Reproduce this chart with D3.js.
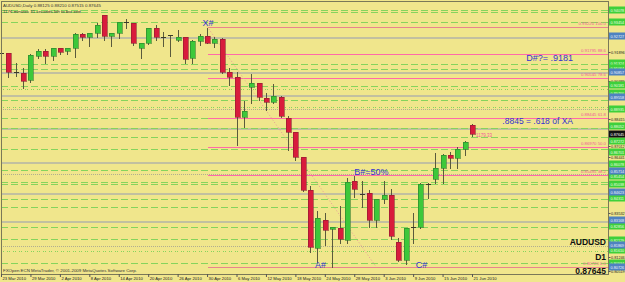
<!DOCTYPE html>
<html>
<head>
<meta charset="utf-8">
<script src="https://cdnjs.cloudflare.com/ajax/libs/d3/7.8.5/d3.min.js"></script>
<style>
  body { margin: 0; background: #f0e68c; }
  svg { display: block; }
  text { font-family: Arial, "Liberation Sans", sans-serif; }
</style>
</head>
<body>
<div id="chart"></div>
<script>
// Daily bars, AUDUSD 23 Mar - 21 Jun 2010
var dates = ["23 Mar 2010","24 Mar 2010","25 Mar 2010","26 Mar 2010","29 Mar 2010","30 Mar 2010","31 Mar 2010",
  "1 Apr 2010","2 Apr 2010","5 Apr 2010","6 Apr 2010","7 Apr 2010","8 Apr 2010","9 Apr 2010","12 Apr 2010",
  "13 Apr 2010","14 Apr 2010","15 Apr 2010","16 Apr 2010","19 Apr 2010","20 Apr 2010","21 Apr 2010","22 Apr 2010",
  "23 Apr 2010","26 Apr 2010","27 Apr 2010","28 Apr 2010","29 Apr 2010","30 Apr 2010",
  "3 May 2010","4 May 2010","5 May 2010","6 May 2010","7 May 2010","10 May 2010","11 May 2010","12 May 2010",
  "13 May 2010","14 May 2010","17 May 2010","18 May 2010","19 May 2010","20 May 2010","21 May 2010","24 May 2010",
  "25 May 2010","26 May 2010","27 May 2010","28 May 2010","31 May 2010",
  "1 Jun 2010","2 Jun 2010","3 Jun 2010","4 Jun 2010","7 Jun 2010","8 Jun 2010","9 Jun 2010","10 Jun 2010",
  "11 Jun 2010","14 Jun 2010","15 Jun 2010","16 Jun 2010","17 Jun 2010","18 Jun 2010","21 Jun 2010"];

var opens = [0.9185, 0.9184, 0.9086, 0.9081, 0.9044, 0.9169, 0.9195, 0.9169, 0.9210, 0.9195,
  0.9210, 0.9283, 0.9267, 0.9288, 0.9382, 0.9273, 0.9288, 0.9345, 0.9340, 0.9210,
  0.9236, 0.9314, 0.9267, 0.9278, 0.9252, 0.9267, 0.9158, 0.9247, 0.9273, 0.9236,
  0.9257, 0.9086, 0.9060, 0.8852, 0.9008, 0.9029, 0.8951, 0.8930, 0.8956, 0.8847,
  0.8774, 0.8644, 0.8473, 0.8171, 0.8317, 0.8270, 0.8275, 0.8213, 0.8519, 0.8452,
  0.8457, 0.8317, 0.8426, 0.8447, 0.8203, 0.8109, 0.8280, 0.8280, 0.8504, 0.8530,
  0.8587, 0.8654, 0.8639, 0.8686, 0.88125];
var highs = [0.9200, 0.9190, 0.9138, 0.9112, 0.9184, 0.9210, 0.9210, 0.9216, 0.9213, 0.9216,
  0.9293, 0.9293, 0.9290, 0.9345, 0.9387, 0.9293, 0.9351, 0.9366, 0.9345, 0.9242,
  0.9319, 0.9335, 0.9299, 0.9279, 0.9309, 0.9269, 0.9257, 0.9288, 0.9322, 0.9273,
  0.9267, 0.9112, 0.9091, 0.8940, 0.9080, 0.9034, 0.8982, 0.9029, 0.8966, 0.8862,
  0.8775, 0.8646, 0.8499, 0.8369, 0.8358, 0.8286, 0.8395, 0.8540, 0.8550, 0.8525,
  0.8478, 0.8431, 0.8525, 0.8483, 0.8228, 0.8280, 0.8358, 0.8514, 0.8514, 0.8670,
  0.8665, 0.8675, 0.8701, 0.8732, 0.88210];
var lows = [0.9169, 0.9060, 0.9065, 0.9003, 0.9034, 0.9158, 0.9132, 0.9148, 0.9179, 0.9179,
  0.9164, 0.9252, 0.9221, 0.9267, 0.9252, 0.9221, 0.9262, 0.9314, 0.9226, 0.9158,
  0.9231, 0.9252, 0.9221, 0.9169, 0.9247, 0.9132, 0.9132, 0.9226, 0.9234, 0.9216,
  0.9081, 0.9018, 0.8706, 0.8800, 0.8925, 0.8940, 0.8888, 0.8925, 0.8852, 0.8680,
  0.8629, 0.8470, 0.8151, 0.8099, 0.8187, 0.8073, 0.8197, 0.8197, 0.8436, 0.8384,
  0.8280, 0.8280, 0.8405, 0.8218, 0.8104, 0.8088, 0.8197, 0.8275, 0.8431, 0.8509,
  0.8509, 0.8587, 0.8587, 0.8654, 0.87515];
var closes = [0.9184, 0.9086, 0.9085, 0.9039, 0.9174, 0.9195, 0.9169, 0.9210, 0.9190, 0.9210,
  0.9283, 0.9267, 0.9288, 0.9330, 0.9273, 0.9288, 0.9345, 0.9344, 0.9236, 0.9236,
  0.9314, 0.9267, 0.9266, 0.9277, 0.9267, 0.9153, 0.9247, 0.9273, 0.9236, 0.9257,
  0.9086, 0.9060, 0.8852, 0.8883, 0.9029, 0.8956, 0.8930, 0.8961, 0.8857, 0.8774,
  0.8644, 0.8473, 0.8177, 0.8327, 0.8265, 0.8280, 0.8218, 0.8514, 0.8478, 0.8451,
  0.8317, 0.8426, 0.8447, 0.8234, 0.8109, 0.8275, 0.8281, 0.8504, 0.8503, 0.8587,
  0.8654, 0.8639, 0.8686, 0.8722, 0.87645];

// date labels under the chart
var tickDates = ["23 Mar 2010","29 Mar 2010","2 Apr 2010","8 Apr 2010","14 Apr 2010","20 Apr 2010",
  "26 Apr 2010","30 Apr 2010","6 May 2010","12 May 2010","18 May 2010","24 May 2010","28 May 2010",
  "3 Jun 2010","9 Jun 2010","15 Jun 2010","21 Jun 2010"];

// horizontal levels drawn across the chart
var dashLevels = [0.94078, 0.93974, 0.93454, 0.91272, 0.91012, 0.90129, 0.89428, 0.88467, 0.87947,
  0.87480, 0.86856, 0.85766, 0.85142, 0.85038, 0.84259, 0.83843, 0.82804, 0.82181, 0.80934];
var solidLevels = [0.92675, 0.90857, 0.89662, 0.87947, 0.86181, 0.84571, 0.83116];
var thinLevels = [0.88935, 0.85558, 0.81817];
var dotLevels = [0.89973, 0.89038, 0.81558];

// fibonacci X -> A
var fibHigh = 0.9322;
var fibLow = 0.8072;
var fibRatios = [0, 38.2, 50, 61.8, 78.6, 88.6, 100];

// price axis labels
var greenTags = [0.94078, 0.93454, 0.91324, 0.91064, 0.90181, 0.89766, 0.88935, 0.88052, 0.87272,
  0.86701, 0.86078, 0.85454, 0.85038, 0.84311, 0.82856, 0.82129, 0.81610, 0.80934];
var blueTags = [0.92727, 0.90857, 0.89558, 0.85714, 0.84623, 0.83168, 0.81869, 0.80726];
var axisTicks = [0.91896, 0.90389, 0.88415, 0.87012, 0.86441, 0.83532, 0.81246, 0.80519];
var lastPrice = 0.87645;

// chart size
var svgWidth = 625;
var svgHeight = 282;
var margin = { top: 2, right: 17, bottom: 8, left: 1 };
var plotRight = svgWidth - margin.right;
var plotBottom = svgHeight - margin.bottom;
var rightShift = 136;

var svg = d3.select("#chart")
  .append("svg")
  .attr("width", svgWidth)
  .attr("height", svgHeight);

svg.append("rect")
  .attr("width", svgWidth)
  .attr("height", svgHeight)
  .attr("fill", "#f0e68c");

var bars = dates.map(function(d, i) {
  return { date: d, open: opens[i], high: highs[i], low: lows[i], close: closes[i] };
});

var xScale = d3.scalePoint()
  .domain(dates)
  .range([margin.left, plotRight - rightShift]);

var yScale = d3.scaleLinear()
  .domain([0.80363, 0.94493])
  .range([plotBottom, margin.top]);

var chartGroup = svg.append("g").attr("shape-rendering", "crispEdges");

function py(p) { return Math.round(yScale(p)) + 0.5; }
function px(d) { return Math.round(xScale(d)) + 0.5; }

// level lines
function drawLevels(prices, color, width, dash) {
  chartGroup.append("g").selectAll("line")
    .data(prices)
    .enter()
    .append("line")
    .attr("x1", margin.left)
    .attr("x2", plotRight)
    .attr("y1", d => py(d))
    .attr("y2", d => py(d))
    .attr("stroke", color)
    .attr("stroke-width", width)
    .attr("stroke-dasharray", dash);
}
drawLevels(solidLevels, "#c2c0a0", 2, null);
drawLevels(thinLevels, "#b0ae90", 1, "1,1");
drawLevels(dashLevels, "#86d45c", 1, "7,3");
drawLevels(dotLevels, "#86d45c", 1, "1,1,1,3");

// fibonacci levels from X bar to the right edge
var fibStart = "30 Apr 2010";
var fibGroup = chartGroup.append("g").selectAll("g")
  .data(fibRatios)
  .enter()
  .append("g");

fibGroup.append("line")
  .attr("x1", px(fibStart))
  .attr("x2", plotRight)
  .attr("y1", d => py(fibLow + d / 100 * (fibHigh - fibLow)))
  .attr("y2", d => py(fibLow + d / 100 * (fibHigh - fibLow)))
  .attr("stroke", d => (d === 0 || d === 100) ? "#e8848c" : "#ff6aa8");

fibGroup.append("text")
  .attr("x", plotRight - 2)
  .attr("y", d => py(fibLow + d / 100 * (fibHigh - fibLow)) - 2.5)
  .attr("text-anchor", "end")
  .attr("font-size", 4.3)
  .attr("fill", "#f05a9a")
  .text(d => (fibLow + d / 100 * (fibHigh - fibLow)).toFixed(5) + " " + d.toFixed(1));

// dotted XA line
chartGroup.append("line")
  .attr("x1", xScale(fibStart))
  .attr("y1", yScale(fibHigh))
  .attr("x2", xScale("2 Jun 2010"))
  .attr("y2", yScale(fibLow))
  .attr("shape-rendering", "auto")
  .attr("stroke", "#e89a9a")
  .attr("stroke-width", 1)
  .attr("stroke-dasharray", "1,2");

// candles
var candles = chartGroup.append("g").selectAll("g")
  .data(bars)
  .enter()
  .append("g");

candles.append("line")
  .attr("x1", d => px(d.date))
  .attr("x2", d => px(d.date))
  .attr("y1", d => py(d.high))
  .attr("y2", d => py(d.low))
  .attr("stroke", "#5a5a3c");

candles.filter(d => Math.abs(d.open - d.close) >= 0.00015)
  .append("rect")
  .attr("x", d => Math.round(xScale(d.date)) - 2)
  .attr("y", d => Math.round(yScale(Math.max(d.open, d.close))))
  .attr("width", 5)
  .attr("height", d => Math.max(1, Math.round(Math.abs(yScale(d.open) - yScale(d.close)))))
  .attr("fill", d => d.close > d.open ? "#3dc83a" : "#d81c3c")
  .attr("stroke", d => d.close > d.open ? "#2b7d2b" : "#8c1c30")
  .attr("stroke-width", 0.6);

candles.filter(d => Math.abs(d.open - d.close) < 0.00015)
  .append("line")
  .attr("x1", d => Math.round(xScale(d.date)) - 2)
  .attr("x2", d => Math.round(xScale(d.date)) + 3)
  .attr("y1", d => py(d.close))
  .attr("y2", d => py(d.close))
  .attr("stroke", "#3a3a2a");

// small pink tag next to last candle
svg.append("text")
  .attr("x", xScale("21 Jun 2010") + 4)
  .attr("y", yScale(lastPrice) + 3)
  .attr("font-size", 4.5)
  .attr("fill", "#f05a9a")
  .text("1179.33");

// pattern labels
var labelColor = "#3434d0";
var pointLabels = svg.append("g")
  .attr("font-size", 9)
  .attr("fill", labelColor);

pointLabels.append("text").attr("x", xScale("30 Apr 2010") + 1).attr("y", yScale(0.9325))
  .attr("text-anchor", "middle").text("X#");
pointLabels.append("text").attr("x", xScale("21 May 2010") + 3).attr("y", yScale(0.8065))
  .attr("text-anchor", "middle").text("A#");
pointLabels.append("text").attr("x", xScale("28 May 2010")).attr("y", yScale(0.8553))
  .text("B#=50%");
pointLabels.append("text").attr("x", xScale("10 Jun 2010") + 1).attr("y", yScale(0.8065))
  .attr("text-anchor", "middle").text("C#");
pointLabels.append("text").attr("x", plotRight - 35).attr("y", yScale(0.9145))
  .attr("text-anchor", "end").text("D#?= .9181");
pointLabels.append("text").attr("x", plotRight - 35).attr("y", yScale(0.8813))
  .attr("text-anchor", "end").attr("font-size", 8.5).text(".8845 = .618 of XA");

// info text
svg.append("text").attr("x", 3).attr("y", 7).attr("font-size", 4.4).attr("fill", "#333")
  .text("AUDUSD,Daily  0.88125 0.88210 0.87515 0.87645");
svg.append("text").attr("x", 3).attr("y", 12.5).attr("font-size", 4.4).attr("fill", "#333")
  .text("1176 minutes 31 seconds left to bar end");
svg.append("text").attr("x", 3).attr("y", 271.5).attr("font-size", 4.4).attr("fill", "#333")
  .text("FXOpen ECN MetaTrader, \u00a9 2001-2009 MetaQuotes Software Corp.");

var symbolText = svg.append("g")
  .attr("font-size", 8.5)
  .attr("font-weight", "bold")
  .attr("fill", "#111")
  .attr("text-anchor", "end");
symbolText.append("text").attr("x", plotRight - 2).attr("y", 245).text("AUDUSD");
symbolText.append("text").attr("x", plotRight - 2).attr("y", 259.5).text("D1");
symbolText.append("text").attr("x", plotRight - 2).attr("y", 274).text(lastPrice.toFixed(5));

// frame
chartGroup.append("rect")
  .attr("x", margin.left + 0.5)
  .attr("y", margin.top - 0.5)
  .attr("width", plotRight - margin.left - 0.5)
  .attr("height", plotBottom - margin.top + 0.5)
  .attr("fill", "none")
  .attr("stroke", "#7a7858");

// price axis
var rightAxis = d3.axisRight(yScale)
  .tickValues(axisTicks)
  .tickSize(2)
  .tickFormat(d3.format(".5f"));

var yAxis = svg.append("g")
  .attr("transform", `translate(${plotRight + 0.5}, 0)`)
  .call(rightAxis);
yAxis.select(".domain").remove();
yAxis.selectAll("text").attr("font-size", 3.8).attr("fill", "#222").attr("x", 2.5);
yAxis.selectAll("line").attr("stroke", "#555");

function drawTags(prices, fill, textColor) {
  var tags = svg.append("g").selectAll("g")
    .data(prices)
    .enter()
    .append("g")
    .attr("transform", d => `translate(${plotRight + 1}, ${Math.round(yScale(d))})`);
  tags.append("rect")
    .attr("x", 0)
    .attr("y", -3.5)
    .attr("width", margin.right)
    .attr("height", 7)
    .attr("fill", fill);
  tags.append("text")
    .attr("x", 1.5)
    .attr("y", 1.5)
    .attr("font-size", 3.8)
    .attr("fill", textColor)
    .text(d => d.toFixed(5));
}
drawTags(greenTags, "#3ed03a", "#eaffe0");
drawTags(blueTags, "#4f82c0", "#eef4ff");
drawTags([lastPrice], "#111", "#fff");

// date axis
var bottomAxis = d3.axisBottom(xScale)
  .tickValues(tickDates)
  .tickSize(3);

var xAxis = svg.append("g")
  .attr("transform", `translate(0, ${plotBottom})`)
  .call(bottomAxis);
xAxis.select(".domain").remove();
xAxis.selectAll("line").attr("stroke", "#555");
xAxis.selectAll("text")
  .attr("font-size", 4.2)
  .attr("fill", "#222")
  .attr("text-anchor", "start")
  .attr("x", 1)
  .attr("y", 2.5)
  .attr("dy", "0.8em");
</script>
</body>
</html>
